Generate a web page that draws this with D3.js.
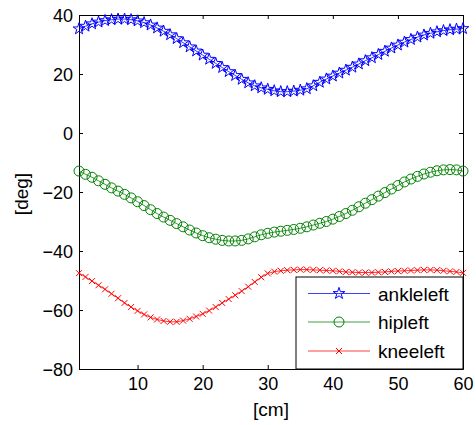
<!DOCTYPE html>
<html><head><meta charset="utf-8">
<script src="https://cdn.jsdelivr.net/npm/d3@7"></script>
<style>
html,body{margin:0;padding:0;background:#fff;}
svg{display:block;font-family:"Liberation Sans",Arial,Helvetica,sans-serif;}
</style></head>
<body>
<svg id="c" width="476" height="425"></svg>
<script>
const xValues = d3.range(1, 61);
const ankleleft = [35.3,36.2,37.0,37.6,38.1,38.4,38.6,38.6,38.4,38.0,37.4,36.6,35.6,34.5,33.3,32.0,30.6,29.2,27.8,26.4,25.0,23.6,22.2,20.8,19.5,18.2,17.0,16.0,15.3,14.8,14.3,14.0,14.0,14.2,14.5,15.0,16.0,17.2,18.3,19.3,20.3,21.3,22.3,23.4,24.5,25.5,26.6,27.7,28.8,29.8,30.8,31.7,32.5,33.2,33.8,34.3,34.7,35.0,35.2,35.4];
const hipleft = [-12.9,-14.0,-15.0,-16.2,-17.4,-18.6,-19.7,-20.8,-22.0,-23.3,-24.6,-26.0,-27.3,-28.5,-29.6,-30.7,-31.8,-32.9,-33.9,-34.8,-35.5,-36.0,-36.4,-36.6,-36.6,-36.4,-35.9,-35.2,-34.5,-34.0,-33.6,-33.3,-33.0,-32.7,-32.3,-31.8,-31.2,-30.6,-30.0,-29.2,-28.3,-27.3,-26.2,-25.0,-23.8,-22.6,-21.4,-20.2,-19.0,-17.8,-16.6,-15.6,-14.7,-13.9,-13.3,-12.8,-12.5,-12.4,-12.5,-12.9];
const kneeleft = [-47.5,-48.8,-50.2,-51.6,-53.0,-54.5,-56.0,-57.6,-59.0,-60.3,-61.5,-62.5,-63.2,-63.7,-64.0,-64.0,-63.6,-63.0,-62.2,-61.3,-60.2,-59.0,-57.6,-56.3,-55.0,-53.6,-52.1,-50.5,-48.9,-47.6,-47.0,-46.7,-46.5,-46.4,-46.3,-46.3,-46.4,-46.5,-46.6,-46.7,-46.9,-47.1,-47.2,-47.3,-47.3,-47.3,-47.2,-47.1,-46.9,-46.8,-46.7,-46.6,-46.5,-46.4,-46.4,-46.5,-46.7,-46.9,-47.1,-47.4];
const seriesNames = ["ankleleft","hipleft","kneeleft"];
const seriesColors = ["#0000ff","#008000","#ff0000"];
const seriesMarkers = ["star","circle","cross"];
const xTicks = [10,20,30,40,50,60];
const yTicks = [-80,-60,-40,-20,0,20,40];
const xLabel = "[cm]", yLabel = "[deg]";

const series = [ankleleft, hipleft, kneeleft].map((vals,i)=>({
  name: seriesNames[i], color: seriesColors[i], marker: seriesMarkers[i],
  pts: vals.map((v,j)=>({x:xValues[j], y:v}))
}));

const L=79, R=463, T=15, B=369;
const svg = d3.select("#c");
const x = d3.scaleLinear().domain([1,60]).range([L,R]);
const y = d3.scaleLinear().domain([-80,40]).range([B,T]);

const starPath = d3.symbol().type(d3.symbolStar).size(42)();
const circlePath = d3.symbol().type(d3.symbolCircle).size(Math.PI*25)();
const crossPath = "M-3,-3L3,3M-3,3L3,-3";
function markerPath(m){ return m==="star"?starPath : m==="circle"?circlePath : crossPath; }

function styleAxis(g){
  g.selectAll("path.domain").attr("stroke","#000").attr("stroke-width",1);
  g.selectAll(".tick line").attr("stroke","#000").attr("stroke-width",1);
  g.selectAll(".tick text").attr("fill","#000").attr("font-size",18)
   .attr("font-family","'Liberation Sans',Arial,Helvetica,sans-serif");
}
svg.append("g").attr("transform",`translate(0,${B})`)
  .call(d3.axisBottom(x).tickValues(xTicks).tickSizeInner(-4).tickSizeOuter(0).tickPadding(8))
  .call(styleAxis);
svg.append("g").attr("transform",`translate(0,${T})`)
  .call(d3.axisTop(x).tickValues(xTicks).tickSizeInner(-4).tickSizeOuter(0).tickFormat(""))
  .call(styleAxis);
const ya = svg.append("g").attr("transform",`translate(${L},0)`)
  .call(d3.axisLeft(y).tickValues(yTicks).tickSizeInner(-4).tickSizeOuter(0).tickPadding(6))
  .call(styleAxis);
ya.selectAll(".tick text").attr("dy",null).attr("y",6.5);
svg.append("g").attr("transform",`translate(${R},0)`)
  .call(d3.axisRight(y).tickValues(yTicks).tickSizeInner(-4).tickSizeOuter(0).tickFormat(""))
  .call(styleAxis);

svg.append("text").attr("x",(L+R)/2).attr("y",416).attr("text-anchor","middle")
  .attr("font-size",19).text(xLabel);
svg.append("text").attr("transform",`translate(28,194) rotate(-90)`).attr("text-anchor","middle")
  .attr("font-size",19).text(yLabel);

const line = d3.line().x(d=>x(d.x)).y(d=>y(d.y));
series.forEach(s=>{
  const g = svg.append("g");
  g.append("path").attr("d",line(s.pts)).attr("fill","none").attr("stroke",s.color).attr("stroke-width",0.8);
  g.selectAll("path.m").data(s.pts).join("path").attr("class","m")
    .attr("transform",d=>`translate(${x(d.x)},${y(d.y)})`)
    .attr("d",markerPath(s.marker)).attr("fill","none").attr("stroke",s.color).attr("stroke-width",1);
});

const lg = svg.append("g");
lg.append("rect").attr("x",296).attr("y",277).attr("width",R-296).attr("height",B-277)
  .attr("fill","#fff").attr("stroke","#000").attr("stroke-width",1);
const rowY = [293.5,322,351];
series.forEach((s,i)=>{
  lg.append("line").attr("x1",308).attr("x2",370).attr("y1",rowY[i]).attr("y2",rowY[i])
    .attr("stroke",s.color).attr("stroke-width",1).attr("stroke-opacity",0.75);
  lg.append("path").attr("transform",`translate(339,${rowY[i]})`).attr("d",markerPath(s.marker))
    .attr("fill","none").attr("stroke",s.color).attr("stroke-width",1);
  lg.append("text").attr("x",378).attr("y",rowY[i]+7).attr("font-size",19).attr("fill","#000").text(s.name);
});
</script>
</body></html>
